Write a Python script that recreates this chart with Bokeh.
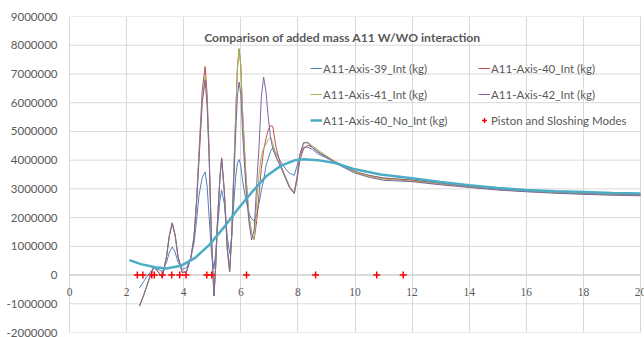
from bokeh.plotting import figure
from bokeh.models import (Range1d, FixedTicker, Legend, LegendItem, Label, LabelSet,
                          ColumnDataSource)
from bokeh.embed import file_html
from bokeh.resources import INLINE

SCALE = 1e6  # values below are in millions of kg

freq = [2.45, 2.6, 2.75, 2.95, 3.1, 3.25, 3.4, 3.5, 3.6, 3.7, 3.8, 3.95, 4.1, 4.25,
        4.36, 4.45, 4.54, 4.65, 4.75, 4.82, 4.89, 4.97, 5.06, 5.12, 5.18, 5.27, 5.33,
        5.42, 5.53, 5.61, 5.68, 5.74, 5.82, 5.88, 5.94, 6.0, 6.06, 6.18, 6.29, 6.38,
        6.47, 6.56, 6.64, 6.72, 6.8, 6.88, 6.96, 7.04, 7.12, 7.23, 7.4, 7.55, 7.7,
        7.87, 7.97, 8.07, 8.2, 8.35, 8.5, 8.7, 9.0, 9.5, 10.0, 10.5, 11.0, 12.0, 13.0,
        14.0, 15.0, 16.0, 17.0, 18.0, 19.0, 20.0]

a39 = [-0.45, -0.22, 0.0, 0.25, 0.2, 0.12, 0.45, 0.8, 0.98, 0.8, 0.45, 0.2, 0.25, 0.6,
       1.1, 1.9, 2.8, 3.4, 3.59, 3.1, 2.03, 0.8, 0.22, 0.8, 1.6, 2.6, 2.95,
       2.5, 1.3, 0.75, 1.3, 2.3, 3.4, 3.9, 4.02, 3.8, 3.3, 2.6, 2.14, 1.95,
       1.88, 2.1, 2.5, 2.95, 3.3, 3.8, 4.05, 4.3, 4.43, 4.25, 3.95, 3.72, 3.55,
       3.47, 3.8, 4.15, 4.45, 4.45, 4.38, 4.22, 4.08, 3.82, 3.6, 3.47, 3.38, 3.31, 3.2,
       3.1, 3.0, 2.94, 2.89, 2.85, 2.82, 2.8]

a40 = [-1.08, -0.7, -0.25, 0.28, 0.12, -0.09, 0.65, 1.4, 1.82, 1.4, 0.65, 0.08, 0.12, 0.6,
       1.33, 2.6, 4.34, 6.43, 7.26, 6.3, 4.34, 1.33, -0.73, 0.3, 1.8, 3.42, 4.08,
       2.95, 0.87, 0.12, 1.4, 3.18, 5.5, 7.2, 7.88, 7.3, 5.73, 3.42, 2.03, 1.45,
       1.25, 1.9, 2.84, 3.7, 4.34, 4.75, 5.05, 5.2, 5.18, 4.46, 3.82, 3.45, 3.1,
       2.84, 3.3, 4.0, 4.4, 4.52, 4.45, 4.28, 4.12, 3.85, 3.6, 3.46, 3.37, 3.3, 3.18,
       3.08, 2.98, 2.92, 2.87, 2.84, 2.81, 2.79]

a41 = [-1.08, -0.7, -0.25, 0.28, 0.12, -0.09, 0.65, 1.38, 1.8, 1.38, 0.65, 0.08, 0.12, 0.6,
       1.3, 2.5, 4.15, 6.1, 6.9, 6.0, 4.15, 1.3, -0.73, 0.3, 1.8, 3.4, 4.05,
       2.95, 0.87, 0.12, 1.4, 3.18, 5.5, 7.15, 7.85, 7.3, 5.73, 3.42, 2.03, 1.45,
       1.22, 2.6, 3.5, 4.15, 4.42, 4.55, 4.72, 4.8, 4.6, 4.15, 3.78, 3.45, 3.1,
       2.88, 3.4, 4.2, 4.62, 4.62, 4.5, 4.35, 4.15, 3.82, 3.58, 3.43, 3.34, 3.27, 3.16,
       3.06, 2.97, 2.91, 2.86, 2.82, 2.79, 2.77]

a42 = [-1.08, -0.7, -0.25, 0.28, 0.12, -0.09, 0.65, 1.38, 1.8, 1.38, 0.65, 0.08, 0.12, 0.6,
       1.3, 2.5, 4.1, 6.0, 6.78, 5.9, 4.1, 1.3, -0.73, 0.3, 1.8, 3.4, 4.05,
       2.95, 0.87, 0.12, 1.3, 2.9, 4.9, 6.2, 6.72, 6.3, 5.0, 3.0, 1.8, 1.22,
       1.6, 3.2, 4.5, 6.2, 6.89, 6.4, 5.5, 4.8, 4.4, 4.11, 3.76, 3.4, 3.05,
       2.84, 3.4, 4.2, 4.6, 4.6, 4.45, 4.3, 4.1, 3.8, 3.55, 3.4, 3.3, 3.25, 3.14,
       3.05, 2.96, 2.9, 2.85, 2.81, 2.78, 2.76]

freq_noint = [2.1, 2.5, 3.0, 3.4, 3.9, 4.4, 4.9, 5.4, 5.9, 6.4, 6.9, 7.4, 7.9, 8.2, 8.7,
              9.3, 10.0, 10.9, 12.0, 13.0, 14.0, 15.0, 16.0, 17.0, 18.0, 19.0, 20.0]
a40_noint = [0.52, 0.38, 0.27, 0.23, 0.32, 0.6, 1.05, 1.65, 2.3, 2.9, 3.45, 3.8, 4.0, 4.03,
             4.0, 3.9, 3.68, 3.5, 3.37, 3.24, 3.13, 3.03, 2.96, 2.92, 2.89, 2.86, 2.84]

modes_freq = [2.375, 2.57, 2.88, 2.97, 3.25, 3.58, 3.86, 4.08, 4.81, 4.98, 6.2, 8.62,
              10.76, 11.69]
modes_val = [0] * len(modes_freq)

x_ticks = [0, 2, 4, 6, 8, 10, 12, 14, 16, 18, 20]
x_tick_labels = ["0", "2", "4", "6", "8", "10", "12", "14", "16", "18", "20"]
y_ticks = [-2000000, -1000000, 0, 1000000, 2000000, 3000000, 4000000, 5000000,
           6000000, 7000000, 8000000, 9000000]
y_tick_labels = ["-2000000", "-1000000", "0", "1000000", "2000000", "3000000",
                 "4000000", "5000000", "6000000", "7000000", "8000000", "9000000"]

series_names = ["A11-Axis-39_Int (kg)", "A11-Axis-40_Int (kg)", "A11-Axis-41_Int (kg)",
                "A11-Axis-42_Int (kg)", "A11-Axis-40_No_Int (kg)", "Piston and Sloshing Modes"]
title_text = "Comparison of added mass A11 W/WO interaction"

FONT = "Lato"
TXT = "#595959"
GRID = "#d9d9d9"
AXIS = "#c8c8c8"

X_MIN, X_MAX = x_ticks[0], x_ticks[-1]
PX_PER_UNIT = 571 / (X_MAX - X_MIN)        # plot area width of the original / x span
X_LO = X_MIN - 6 / PX_PER_UNIT             # small margin so the "0" label is not clipped
X_HI = X_MAX + 4 / PX_PER_UNIT             # lets "20" run to the page edge, as in the original

p = figure(width=644, height=337, output_backend="svg", toolbar_location=None,
           title=None, x_range=Range1d(X_LO, X_HI), y_range=Range1d(y_ticks[0], y_ticks[-1]),
           min_border_left=63, min_border_right=0, min_border_top=16, min_border_bottom=5)
p.outline_line_color = None
p.background_fill_color = "white"
p.border_fill_color = "white"

p.xaxis.visible = False
p.xgrid.ticker = FixedTicker(ticks=x_ticks)
p.xgrid.grid_line_color = GRID
p.ygrid.visible = False

# horizontal gridlines only over the 0..20 plot area
p.segment(x0=[X_MIN] * len(y_ticks), x1=[X_MAX] * len(y_ticks), y0=y_ticks, y1=y_ticks,
          line_color=GRID, line_width=1)
# horizontal axis line crossing at y = 0
p.line(x=[X_MIN, X_MAX], y=[0, 0], line_color=AXIS, line_width=1)

p.yaxis.ticker = FixedTicker(ticks=y_ticks)
p.yaxis.major_label_overrides = {t: s for t, s in zip(y_ticks, y_tick_labels)}
p.yaxis.axis_line_color = None
p.yaxis.major_tick_out = 0
p.yaxis.major_tick_in = 0
p.yaxis.minor_tick_line_color = None
p.yaxis.major_tick_line_color = None
p.yaxis.major_label_standoff = 6
p.yaxis.major_label_text_font = FONT
p.yaxis.major_label_text_font_size = "11.5px"
p.yaxis.major_label_text_color = TXT

# x tick labels sit under the zero line, as in the original
xlab_src = ColumnDataSource(dict(x=x_ticks, y=[0] * len(x_ticks), text=x_tick_labels))
p.add_layout(LabelSet(x="x", y="y", text="text", source=xlab_src, y_offset=-17,
                      text_align="center", text_baseline="middle", text_font=FONT,
                      text_font_size="11.5px", text_color=TXT))

colors = ["#4F81BD", "#C0504D", "#9BBB59", "#8064A2"]
renderers = []
for ys, c in zip([a39, a40, a41, a42], colors):
    r = p.line(freq, [v * SCALE for v in ys], line_color=c, line_width=1)
    renderers.append(r)
r_noint = p.line(freq_noint, [v * SCALE for v in a40_noint], line_color="#4BACC6", line_width=2.5)
renderers.append(r_noint)
r_modes = p.scatter(modes_freq, modes_val, marker="cross", size=7, line_color="#FF0000",
                    line_width=1.5)
renderers.append(r_modes)

def make_legend(idx, x, y):
    lg = Legend(items=[LegendItem(label=series_names[i], renderers=[renderers[i]]) for i in idx],
                location=(x, y), orientation="vertical", padding=0, margin=0, spacing=10,
                glyph_width=12, glyph_height=16, label_height=16, label_standoff=1,
                label_text_font=FONT, label_text_font_size="11.5px", label_text_color=TXT,
                border_line_color=None, background_fill_alpha=0)
    p.add_layout(lg)

make_legend([0, 2, 4], 247, 204)
make_legend([1, 3, 5], 415, 204)

p.add_layout(Label(x=279, y=295, x_units="screen", y_units="screen", text=title_text,
                   text_align="center", text_baseline="middle", text_font=FONT,
                   text_font_size="12.2px", text_font_style="bold", text_color=TXT))

open("out.html", "w").write(file_html(p, INLINE))
